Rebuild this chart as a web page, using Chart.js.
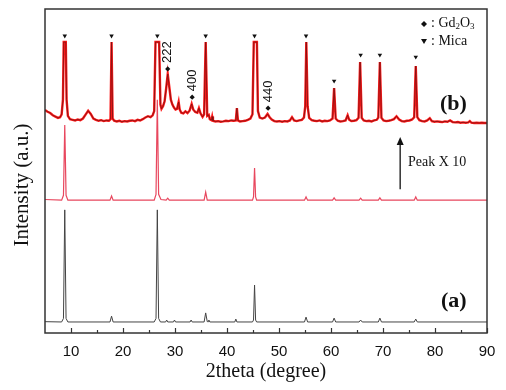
<!DOCTYPE html>
<html>
<head>
<meta charset="utf-8">
<script src="https://cdn.jsdelivr.net/npm/chart.js@4.4.1/dist/chart.umd.min.js"></script>
<style>
  html, body { margin: 0; background: #fff; }
</style>
</head>
<body>
<canvas id="xrd" width="506" height="390"></canvas>
<script>
// x axis labels
const xTicks = [10, 20, 30, 40, 50, 60, 70, 80, 90];
const xMinorTicks = [15, 25, 35, 45, 55, 65, 75, 85];

// (a) pattern, [2theta, intensity] with stacking offset already in it
const patternA = [
  [5, 3.5], [8.2, 3.4], [8.55, 4.5], [8.8, 38.0], [9.05, 4.5], [9.4, 3.4],
  [17.5, 3.4], [17.8, 5.2], [18.1, 3.4],
  [26.0, 3.4], [26.35, 4.5], [26.6, 38.0], [26.85, 4.5], [27.2, 3.4],
  [28.2, 3.4], [28.4, 4.0], [28.6, 3.4],
  [29.7, 3.4], [29.9, 4.0], [30.1, 3.4],
  [32.9, 3.4], [33.1, 4.0], [33.3, 3.4],
  [35.6, 3.4], [35.9, 6.2], [36.2, 3.5], [36.35, 3.5], [36.5, 4.0], [36.7, 3.4],
  [41.5, 3.4], [41.7, 4.3], [41.9, 3.4],
  [44.9, 3.4], [45.1, 4.0], [45.3, 14.8], [45.5, 4.0], [45.7, 3.4],
  [54.9, 3.4], [55.2, 4.9], [55.5, 3.4],
  [60.3, 3.4], [60.6, 4.6], [60.9, 3.4],
  [65.4, 3.4], [65.7, 4.0], [66.0, 3.4],
  [69.1, 3.4], [69.4, 4.6], [69.7, 3.4],
  [76.0, 3.4], [76.3, 4.3], [76.6, 3.4],
  [90, 3.4]
];

// (b) pattern as measured
const patternB = [
  [5, 41.2], [8.2, 41.0], [8.55, 42.5], [8.8, 64.2], [9.05, 42.5], [9.4, 41.0],
  [17.5, 41.0], [17.8, 42.3], [18.1, 41.0],
  [26.0, 41.0], [26.35, 42.8], [26.6, 72.0], [26.85, 42.8], [27.3, 41.2],
  [28.3, 41.0], [28.6, 41.6], [28.9, 41.0],
  [35.6, 41.0], [35.9, 43.5], [36.2, 41.0],
  [44.9, 41.0], [45.1, 42.0], [45.3, 50.9], [45.5, 42.0], [45.7, 41.0],
  [54.9, 41.0], [55.2, 42.0], [55.5, 41.0],
  [60.3, 41.0], [60.6, 41.7], [60.9, 41.0],
  [65.4, 41.0], [65.7, 41.6], [66.0, 41.0],
  [69.1, 41.0], [69.4, 41.7], [69.7, 41.0],
  [76.0, 41.0], [76.3, 42.0], [76.6, 41.0],
  [90, 41.0]
];

// (b) pattern, peaks x 10
const patternB10 = [
  [5.0, 68.8], [5.5, 68.3], [6.0, 67.9], [6.5, 67.2], [7.0, 66.8], [7.5, 66.4], [7.9, 66.6],
  [8.2, 67.5], [8.45, 72.0], [8.6, 89.8], [9.0, 89.8], [9.15, 72.0], [9.4, 67.0],
  [9.8, 66.0], [10.3, 65.8], [10.8, 65.6], [11.3, 65.9], [11.8, 65.7], [12.3, 66.2],
  [12.8, 67.4], [13.3, 68.6], [13.8, 67.6], [14.3, 66.2], [14.8, 65.8], [15.3, 65.5],
  [15.8, 65.7], [16.3, 65.4], [16.8, 65.6], [17.3, 65.5], [17.6, 66.0], [17.8, 89.8],
  [18.0, 66.2], [18.3, 65.5], [18.8, 65.3], [19.3, 65.5], [19.8, 65.2], [20.3, 65.4],
  [20.8, 65.3], [21.3, 65.5], [21.8, 65.6], [22.3, 65.4], [22.8, 65.8], [23.3, 65.6],
  [23.8, 66.0], [24.3, 66.5], [24.8, 66.9], [25.3, 66.6], [25.7, 67.2], [26.0, 68.5],
  [26.25, 89.8], [26.95, 89.8], [27.2, 70.5], [27.4, 69.2], [27.7, 70.0], [28.0, 71.5],
  [28.3, 75.5], [28.6, 79.9], [28.9, 76.0], [29.2, 72.0], [29.5, 70.5], [29.8, 69.6],
  [30.1, 69.0], [30.4, 69.2], [30.7, 71.3], [30.9, 69.0], [31.2, 68.0], [31.6, 67.8],
  [32.0, 68.4], [32.4, 67.9], [32.8, 68.6], [33.2, 70.7], [33.5, 69.0], [33.9, 68.2],
  [34.3, 68.0], [34.6, 69.4], [34.9, 67.8], [35.3, 66.7], [35.6, 67.5], [35.9, 89.8],
  [36.2, 67.0], [36.5, 67.3], [36.7, 66.0], [37.0, 65.7], [37.15, 66.8], [37.3, 65.5],
  [37.8, 65.3], [38.3, 65.4], [38.8, 65.2], [39.3, 65.3], [39.8, 65.5], [40.3, 65.4],
  [40.8, 65.6], [41.3, 65.5], [41.7, 65.6], [41.9, 69.4], [42.1, 65.6], [42.5, 65.3],
  [43.0, 65.4], [43.5, 65.5], [44.0, 65.8], [44.5, 66.2], [44.9, 67.5], [45.15, 89.8],
  [45.75, 89.8], [45.95, 68.5], [46.3, 66.5], [46.8, 66.2], [47.3, 66.5], [47.8, 67.6],
  [48.2, 66.6], [48.6, 65.9], [49.1, 65.4], [49.6, 65.3], [50.1, 65.4], [50.6, 65.2],
  [51.1, 65.4], [51.6, 65.3], [52.1, 65.6], [52.5, 66.6], [52.9, 65.6], [53.4, 65.4],
  [53.9, 65.6], [54.4, 65.8], [54.8, 66.5], [55.05, 70.0], [55.25, 89.8], [55.5, 70.0],
  [55.8, 66.4], [56.3, 65.7], [56.8, 65.5], [57.3, 65.4], [57.8, 65.6], [58.3, 65.3],
  [58.8, 65.5], [59.3, 65.4], [59.8, 65.6], [60.3, 66.2], [60.6, 75.6], [60.9, 66.2],
  [61.3, 65.5], [61.8, 65.3], [62.3, 65.4], [62.8, 65.6], [63.2, 67.2], [63.5, 65.8],
  [63.9, 65.4], [64.4, 65.5], [64.9, 65.7], [65.3, 66.4], [65.6, 83.6], [65.9, 66.4],
  [66.3, 65.6], [66.8, 65.4], [67.3, 65.5], [67.8, 65.3], [68.3, 65.6], [68.8, 65.8],
  [69.1, 66.5], [69.4, 83.6], [69.7, 66.4], [70.1, 65.6], [70.6, 65.4], [71.1, 65.5],
  [71.6, 65.7], [72.1, 66.0], [72.6, 66.9], [73.1, 65.9], [73.6, 65.4], [74.1, 65.3],
  [74.6, 65.5], [75.1, 65.6], [75.6, 65.9], [76.0, 66.6], [76.3, 82.4], [76.6, 66.6],
  [77.0, 65.7], [77.5, 65.4], [78.0, 65.3], [78.5, 65.6], [79.0, 66.3], [79.4, 65.4],
  [79.9, 65.2], [80.4, 65.3], [80.9, 65.2], [81.4, 65.1], [81.9, 65.3], [82.4, 65.2],
  [82.9, 65.6], [83.4, 65.1], [83.9, 65.0], [84.4, 65.1], [84.9, 64.9], [85.4, 65.0],
  [85.9, 64.9], [86.4, 65.0], [86.7, 65.4], [87.0, 64.9], [87.5, 64.8], [88.0, 64.9],
  [88.5, 64.8], [89.0, 64.9], [89.5, 64.8], [90.0, 64.8]
];

// phase markers
const micaTheta = [8.8, 17.8, 26.6, 35.9, 45.3, 55.2, 60.6, 65.7, 69.4, 76.3];
const micaLevel = [91.7, 91.7, 91.7, 91.7, 91.7, 91.7, 77.8, 85.8, 85.8, 85.2];
const gdTheta = [28.6, 33.3, 47.9];
const gdLevel = [81.5, 72.8, 69.4];
const gdLabels = ['222', '400', '440'];

const toPts = (arr) => arr.map(([x, y]) => ({ x, y }));
const serif = '"Liberation Serif", "Times New Roman", serif';
const sans = '"Liberation Sans", Arial, sans-serif';

const decor = {
  id: 'decor',
  beforeDraw(chart) {
    const { ctx } = chart;
    ctx.save();
    ctx.fillStyle = '#fff';
    ctx.fillRect(0, 0, chart.width, chart.height);
    ctx.restore();
  },
  afterDraw(chart) {
    const { ctx, chartArea: a, scales: { x, y } } = chart;
    ctx.save();

    // frame + inward ticks
    ctx.strokeStyle = '#333';
    ctx.lineWidth = 1.5;
    ctx.strokeRect(a.left, a.top, a.right - a.left, a.bottom - a.top);
    ctx.lineWidth = 1.2;
    xTicks.forEach(v => {
      const px = Math.round(x.getPixelForValue(v)) + 0.5;
      ctx.beginPath(); ctx.moveTo(px, a.bottom); ctx.lineTo(px, a.bottom - 5); ctx.stroke();
    });
    xMinorTicks.forEach(v => {
      const px = Math.round(x.getPixelForValue(v)) + 0.5;
      ctx.beginPath(); ctx.moveTo(px, a.bottom); ctx.lineTo(px, a.bottom - 3); ctx.stroke();
    });

    // y axis title
    ctx.fillStyle = '#111';
    ctx.font = '21px ' + serif;
    ctx.textAlign = 'center';
    ctx.textBaseline = 'middle';
    ctx.save();
    ctx.translate(22, 185);
    ctx.rotate(-Math.PI / 2);
    ctx.fillText('Intensity (a.u.)', 0, 0);
    ctx.restore();

    // Gd2O3 reflection labels
    ctx.font = '13px ' + sans;
    ctx.textAlign = 'left';
    gdTheta.forEach((t, i) => {
      ctx.save();
      ctx.translate(x.getPixelForValue(t), y.getPixelForValue(gdLevel[i]) - 6);
      ctx.rotate(-Math.PI / 2);
      ctx.fillText(gdLabels[i], 0, 0);
      ctx.restore();
    });

    // sample labels
    ctx.font = 'bold 22px ' + serif;
    ctx.fillText('(b)', 440, 104);
    ctx.fillText('(a)', 441, 301);

    ctx.font = '14px ' + serif;
    ctx.fillText('Peak X 10', 408, 162);

    // arrow
    const ax = x.getPixelForValue(73.3);
    const y0 = y.getPixelForValue(44.4), y1 = y.getPixelForValue(60.5);
    ctx.strokeStyle = '#111';
    ctx.lineWidth = 1.3;
    ctx.beginPath(); ctx.moveTo(ax, y0); ctx.lineTo(ax, y1 + 4); ctx.stroke();
    ctx.beginPath();
    ctx.moveTo(ax, y1); ctx.lineTo(ax - 3.5, y1 + 8); ctx.lineTo(ax + 3.5, y1 + 8); ctx.closePath();
    ctx.fill();

    // legend
    ctx.beginPath();
    ctx.moveTo(424, 21); ctx.lineTo(427, 24); ctx.lineTo(424, 27); ctx.lineTo(421, 24); ctx.closePath();
    ctx.fill();
    ctx.beginPath();
    ctx.moveTo(421, 39); ctx.lineTo(427, 39); ctx.lineTo(424, 44); ctx.closePath();
    ctx.fill();
    ctx.font = '14px ' + serif;
    let tx = 431;
    ctx.fillText(': Gd', tx, 23);
    tx += ctx.measureText(': Gd').width;
    ctx.font = '9px ' + serif;
    ctx.fillText('2', tx, 27);
    tx += ctx.measureText('2').width;
    ctx.font = '14px ' + serif;
    ctx.fillText('O', tx, 23);
    tx += ctx.measureText('O').width;
    ctx.font = '9px ' + serif;
    ctx.fillText('3', tx, 27);
    ctx.font = '14px ' + serif;
    ctx.fillText(': Mica', 431, 41);

    ctx.restore();
  }
};

new Chart(document.getElementById('xrd'), {
  type: 'line',
  data: {
    datasets: [
      {
        label: 'Mica',
        data: micaTheta.map((t, i) => ({ x: t, y: micaLevel[i] })),
        showLine: false,
        pointStyle: 'triangle',
        rotation: 180,
        pointRadius: 2.6,
        backgroundColor: '#111',
        borderColor: '#111',
        borderWidth: 0
      },
      {
        label: 'Gd2O3',
        data: gdTheta.map((t, i) => ({ x: t, y: gdLevel[i] })),
        showLine: false,
        pointStyle: 'rectRot',
        pointRadius: 2.6,
        backgroundColor: '#111',
        borderColor: '#111',
        borderWidth: 0
      },
      {
        label: '(b) x10 dark',
        data: toPts(patternB10),
        borderColor: '#7a1010',
        borderWidth: 0.8,
        pointRadius: 0,
        tension: 0
      },
      {
        label: '(b) x10',
        data: toPts(patternB10),
        borderColor: '#ff1a1a',
        borderWidth: 2.4,
        pointRadius: 0,
        tension: 0
      },
      {
        label: '(b)',
        data: toPts(patternB),
        borderColor: '#e8475e',
        borderWidth: 1.2,
        pointRadius: 0,
        tension: 0
      },
      {
        label: '(a)',
        data: toPts(patternA),
        borderColor: '#444',
        borderWidth: 1,
        pointRadius: 0,
        tension: 0
      }
    ]
  },
  options: {
    responsive: false,
    animation: false,
    devicePixelRatio: 1,
    layout: { padding: { left: 45, right: 19, top: 9, bottom: 0 } },
    plugins: {
      legend: { display: false },
      tooltip: { enabled: false }
    },
    scales: {
      x: {
        type: 'linear',
        min: 5,
        max: 90,
        afterBuildTicks: (scale) => { scale.ticks = xTicks.map(v => ({ value: v })); },
        afterFit: (scale) => { scale.height = 57; },
        grid: { display: false, drawTicks: false, tickLength: 0 },
        border: { display: false },
        ticks: {
          color: '#111',
          padding: 10,
          maxRotation: 0,
          font: { family: sans, size: 15 }
        },
        title: {
          display: true,
          text: '2theta (degree)',
          color: '#111',
          padding: { top: 0, bottom: 6 },
          font: { family: serif, size: 20 }
        }
      },
      y: {
        display: false,
        min: 0,
        max: 100
      }
    }
  },
  plugins: [decor]
});
</script>
</body>
</html>
